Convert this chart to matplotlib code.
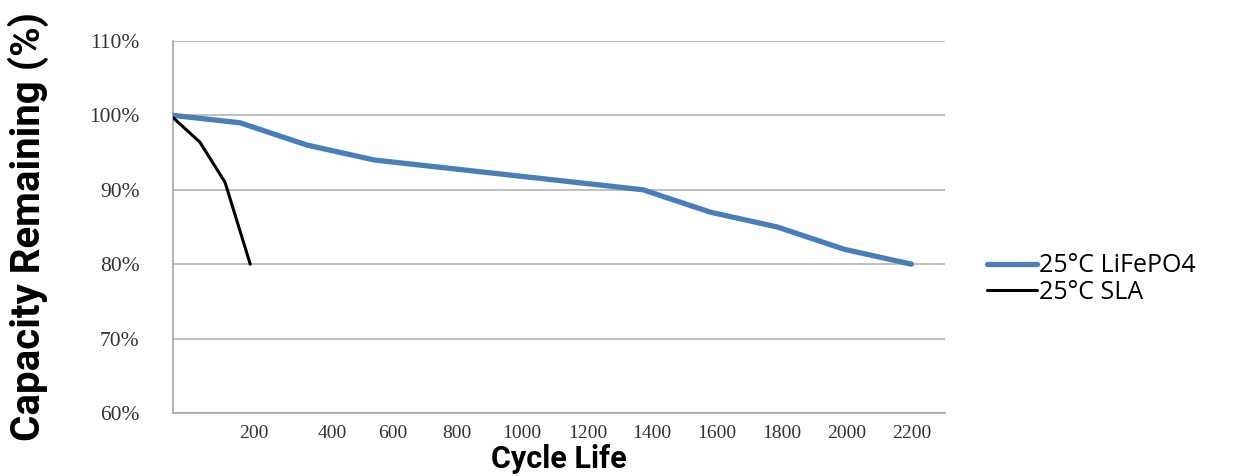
import matplotlib
matplotlib.use('Agg')
import matplotlib.pyplot as plt
from matplotlib import font_manager

# data
lfp_cycles = [0, 200, 400, 600, 800, 1000, 1200, 1400, 1600, 1800, 2000, 2200]
lfp_capacity = [100, 99, 96, 94, 93, 92, 91, 90, 87, 85, 82, 80]
sla_cycles = [0, 80, 155, 230]
sla_capacity = [99.7, 96.4, 91, 80]
x_labels = ['200', '400', '600', '800', '1000', '1200', '1400', '1600', '1800', '2000', '2200']
# where the labels sit in the original (not evenly spaced)
x_label_pos = [242, 475, 654, 845, 1039, 1236, 1427, 1621, 1815, 2006, 2200]
y_ticks = [60, 70, 80, 90, 100, 110]

installed = {f.name for f in font_manager.fontManager.ttflist}
narrow = 'Liberation Sans Narrow' if 'Liberation Sans Narrow' in installed else 'Roboto'

fig = plt.figure(figsize=(12.36, 4.76), dpi=100)
ax = fig.add_axes([0.140, 0.1324, 0.6246, 0.7815])

ax.plot(lfp_cycles, lfp_capacity, color='#4a7ebb', lw=3.8, solid_capstyle='round',
        label='25°C LiFePO4', zorder=3)
ax.plot(sla_cycles, sla_capacity, color='black', lw=2.2, solid_capstyle='round',
        label='25°C SLA', zorder=4)

ax.set_xlim(0, 2300)
ax.set_ylim(60, 110)
ax.set_yticks(y_ticks)
ax.set_yticklabels(['%d%%' % v for v in y_ticks])
ax.set_xticks(x_label_pos)
ax.set_xticklabels(x_labels)
ax.grid(axis='y', color='#b4b4b4', lw=1.2)
ax.set_axisbelow(True)

for s in ['top', 'right']:
    ax.spines[s].set_visible(False)
for s in ['left', 'bottom']:
    ax.spines[s].set_color('#a8a8a8')
    ax.spines[s].set_linewidth(1.2)

ax.tick_params(axis='both', length=0, colors='#333333')
ax.tick_params(axis='y', pad=24)
ax.tick_params(axis='x', pad=9)
for t in ax.get_yticklabels():
    t.set_fontfamily('Liberation Serif')
    t.set_fontsize(15.5)
for t in ax.get_xticklabels():
    t.set_fontfamily('Liberation Serif')
    t.set_fontsize(14)

ax.set_xlabel('Cycle Life', fontfamily=[narrow, 'DejaVu Sans'], fontweight='bold',
              fontsize=22, labelpad=1)
ax.set_ylabel('Capacity Remaining (%)', fontfamily=[narrow, 'DejaVu Sans'],
              fontweight='bold', fontsize=29, labelpad=29)

leg = ax.legend(loc='center left', bbox_to_anchor=(1.025, 0.36), frameon=False,
                prop={'family': ['Open Sans', 'DejaVu Sans'], 'size': 18},
                handlelength=2.0, handletextpad=0.1, labelspacing=0.05)

fig.savefig('out.png', dpi=100)
